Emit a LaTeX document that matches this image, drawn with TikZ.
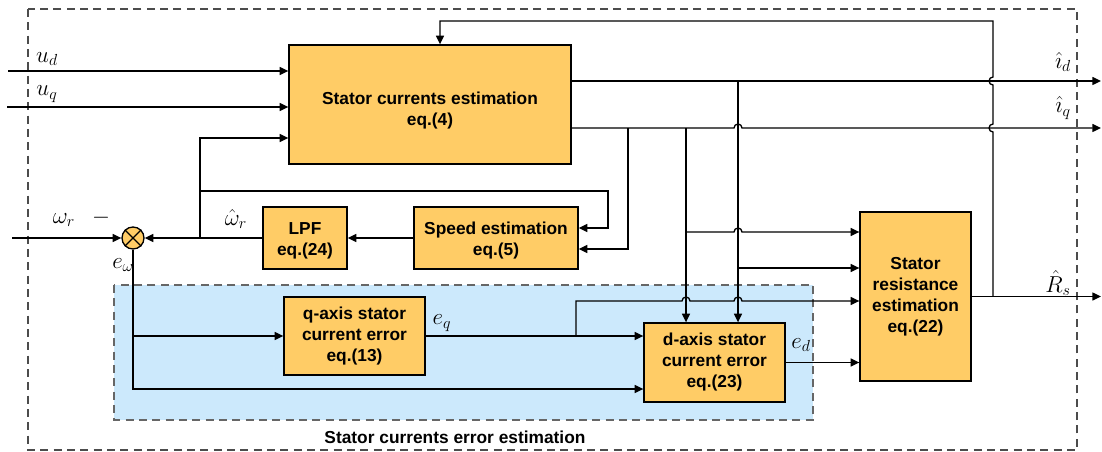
\documentclass[tikz,border=0pt]{standalone}
\usepackage{fontspec}
\setmainfont{Liberation Sans}
\usetikzlibrary{arrows.meta}
\definecolor{blockfill}{RGB}{255,204,102}
\definecolor{errfill}{RGB}{204,233,252}
\tikzset{
blk/.style={draw, fill=blockfill, line width=1pt, align=center, inner sep=0pt, font=\fontsize{13}{15.75}\selectfont\bfseries},
sig/.style={line width=1pt, -{Triangle[length=6.5pt,width=6pt]}},
lab/.style={font=\fontsize{18}{20}\selectfont, inner sep=0pt},
}
\begin{document}
\begin{tikzpicture}[x=0.75pt,y=-0.75pt]
\useasboundingbox (0,0) rectangle (1102,452);

\draw[black!60, dash pattern=on 6pt off 4pt, fill=errfill, line width=0.8pt] (114,285) rectangle (813,420);
\draw[black!70, dash pattern=on 6pt off 4pt, line width=0.8pt] (28,9) rectangle (1077,450);

\node[blk, minimum width=211.5pt, minimum height=89.25pt] (scest) at (430,104.5) {\rule{0pt}{18pt}Stator currents estimation\\eq.(4)};
\node[blk, minimum width=123pt, minimum height=46.5pt] (spd) at (496,238) {\rule{0pt}{13pt}Speed estimation\\eq.(5)};
\node[blk, minimum width=63pt, minimum height=46.5pt] (lpf) at (305,238) {\rule{0pt}{13pt}LPF\\eq.(24)};
\node[blk, minimum width=105.75pt, minimum height=58.5pt] (qerr) at (354.5,336) {q-axis stator\\current error\\eq.(13)};
\node[blk, minimum width=105.75pt, minimum height=59.25pt] (derr) at (714.5,362.5) {d-axis stator\\current error\\eq.(23)};
\node[blk, minimum width=83.25pt, minimum height=126.75pt] (rest) at (915.5,296.5) {Stator\\resistance\\estimation\\eq.(22)};
\node[draw, circle, fill=blockfill, line width=1pt, minimum size=16.5pt, inner sep=0pt] (sum) at (133,238) {};
\draw[line width=1pt] (sum.north west) -- (sum.south east) (sum.north east) -- (sum.south west);

\node[lab] (lud) at (47,59) {$u_d$};
\node[lab] (luq) at (47,94) {$u_q$};
\node[lab] (lwr) at (64,220) {$\omega_r$};
\node[lab] (lminus) at (101,218) {$-$};
\node[lab] (lwh) at (236,219) {$\hat{\omega}_r$};
\node[lab] (lew) at (123,265) {$e_\omega$};
\node[lab] (leq) at (442,323) {$e_q$};
\node[lab] (led) at (801,345) {$e_d$};
\node[lab] (lid) at (1063,62) {$\hat{\imath}_d$};
\node[lab] (liq) at (1063,108) {$\hat{\imath}_q$};
\node[lab] (lrs) at (1058,283) {$\hat{R}_s$};
\node[font=\fontsize{13}{15.75}\selectfont\bfseries] (ltitle) at (455,437) {Stator currents error estimation};

\coordinate (udin) at (8,71);
\coordinate (uqin) at (7,107);
\coordinate (wrin) at (12,238);
\draw[sig] (udin) -- (udin -| scest.west);
\draw[sig] (uqin) -- (uqin -| scest.west);
\draw[sig] (wrin) -- (sum);
\draw[sig] (spd) -- (lpf);
\draw[sig] (lpf) -- (sum);

\coordinate (wj) at (200,238);
\coordinate (wt) at (200,138);
\coordinate (wm) at (200,191);
\coordinate (wr) at (608,191);
\coordinate (spdin) at (608,228);
\draw[sig] (wj) -- (wt) -- (wt -| scest.west);
\draw[sig] (wm) -- (wr) -- (spdin) -- (spdin -| spd.east);

\coordinate (ej) at (133,336);
\coordinate (eb) at (133,389);
\draw[sig] (sum) -- (ej) -- (qerr);
\draw[sig] (ej) -- (eb) -- (eb -| derr.west);
\draw[sig] (qerr.east) -- (qerr.east -| derr.west);

\coordinate (qb) at (576,336);
\coordinate (qu) at (576,301);
\draw[sig] (qb) -- (qu) -- (682,301) arc[start angle=180,end angle=0,radius=3pt] -- (734,301) arc[start angle=180,end angle=0,radius=3pt] -- (qu -| rest.west);
\draw[sig] (derr.east) -- (derr.east -| rest.west);

\coordinate (idout) at (1101,81);
\coordinate (iqout) at (1101,128);
\coordinate (rsout) at (1101,296.5);
\draw[sig] (scest.east |- idout) -- (idout);
\draw[sig] (scest.east |- iqout) -- (734,128) arc[start angle=180,end angle=0,radius=3pt] -- (iqout);
\draw[sig] (rest.east) -- (rsout);

\coordinate (b1) at (628,128);
\coordinate (b1d) at (628,249);
\coordinate (b2) at (686,128);
\coordinate (b2m) at (686,232);
\coordinate (b3) at (738,81);
\coordinate (b3m) at (738,268);
\draw[sig] (b1) -- (b1d) -- (b1d -| spd.east);
\draw[sig] (b2) -- (b2 |- derr.north);
\draw[sig] (b2m) -- (734,232) arc[start angle=180,end angle=0,radius=3pt] -- (b2m -| rest.west);
\draw[sig] (b3) -- (b3 |- derr.north);
\draw[sig] (b3m) -- (b3m -| rest.west);

\coordinate (fb) at (993,296.5);
\coordinate (fbtr) at (993,21);
\coordinate (fbtl) at (440,21);
\draw[sig] (fb) -- (993,132) arc[start angle=270,end angle=90,radius=3pt] -- (993,85) arc[start angle=270,end angle=90,radius=3pt] -- (fbtr) -- (fbtl) -- (fbtl |- scest.north);

\end{tikzpicture}
\end{document}
